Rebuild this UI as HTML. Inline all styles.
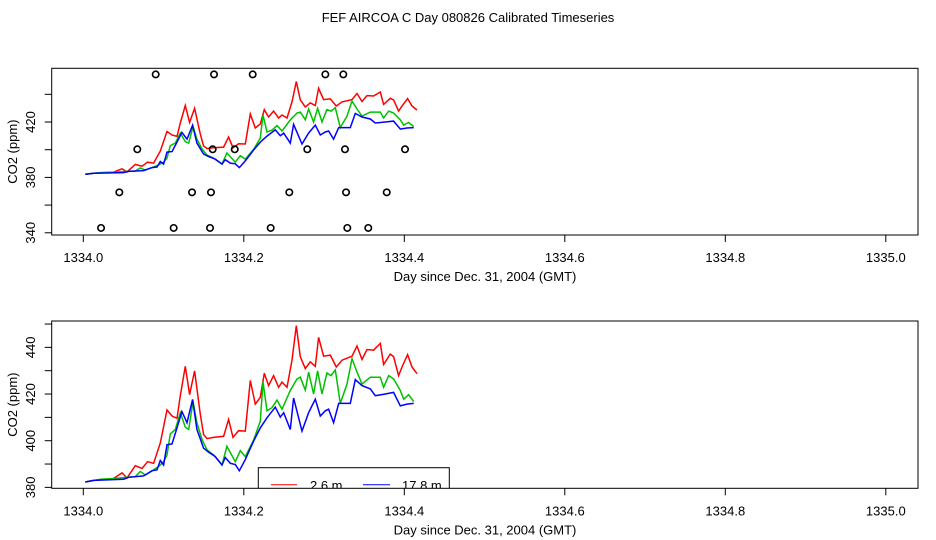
<!DOCTYPE html>
<html><head><meta charset="utf-8"><style>
body{margin:0;background:#fff}
svg{display:block;font-family:"Liberation Sans",Arial,sans-serif}
text{font-size:13px;fill:#000}
</style></head><body>
<svg id="c" width="936" height="540" viewBox="0 0 936 540">
<text x="468" y="22" text-anchor="middle">FEF AIRCOA C  Day 080826  Calibrated Timeseries</text>
</svg>
<script>
const xTicks=[1334.0,1334.2,1334.4,1334.6,1334.8,1335.0];
const xTickLabels=["1334.0","1334.2","1334.4","1334.6","1334.8","1335.0"];
const topYTicks=[340,360,380,400,420,440];
const topYLabels=[340,380,420];
const botYTicks=[380,390,400,410,420,430,440,450];
const botYLabels=[380,400,420,440];
const redX=[.0025,.0129,.0378,.0482,.0544,.0648,.0731,.0801,.0876,.0960,.1043,.1105,.1167,.1209,.1271,.1325,.1387,.1458,.1499,.1541,.1624,.1748,.1811,.1865,.1935,.2019,.2081,.2143,.2206,.2255,.2309,.2371,.2434,.2476,.2538,.2601,.2654,.2704,.2766,.2829,.2891,.2932,.2994,.3078,.3153,.3224,.3348,.3411,.3473,.3535,.3618,.3701,.3742,.3826,.3867,.3929,.3971,.4041,.4096,.4158];
const redY=[382.3,383,383.8,386.2,384,389.3,388.1,391,390.3,399,413.2,410.6,409.6,419.3,431.9,419.7,429.9,411.3,402.6,400.9,401.4,401.9,409.1,401.4,404.3,404.1,425.8,415.7,418.6,428.9,423.6,427.9,422.9,425.1,422.9,434.5,449.3,436,430.9,433.8,431.9,444.3,436.2,436.7,431.6,434.5,436.2,440.6,434.8,439.1,438.8,441.7,432.7,437.1,436,427.9,431.6,436.9,431.6,428.7];
const greenX=[.0025,.0212,.0399,.0544,.0648,.0710,.0773,.0856,.0939,.1001,.1043,.1084,.1147,.1209,.1271,.1313,.1367,.1416,.1479,.1541,.1624,.1728,.1790,.1894,.1956,.2019,.2123,.2206,.2239,.2289,.2351,.2414,.2476,.2580,.2663,.2704,.2766,.2808,.2870,.2920,.2974,.3036,.3086,.3140,.3203,.3286,.3348,.3411,.3473,.3576,.3701,.3742,.3805,.3867,.3950,.3992,.4054,.4117];
const greenY=[382.3,383.5,383.8,384.3,384.6,386.8,385.3,387.1,389,391,393.9,402.9,404.8,412,405.8,404.8,416.8,407.7,400.5,396.1,393.9,389.6,397.6,391,395.7,393.2,400.4,408.4,425.1,412.8,414.2,417.4,413.5,421.5,426.5,427.2,421.7,429.4,420,429.9,420,429,427.9,430.3,416,424.3,435.2,429.4,424.3,427.2,427.2,422.9,427.9,426.5,421.5,417.8,419.7,416.8];
const blueX=[.0025,.0129,.0502,.0565,.0752,.0856,.0918,.0960,.1001,.1043,.1105,.1167,.1229,.1292,.1362,.1416,.1499,.1561,.1645,.1728,.1769,.1832,.1894,.1944,.2019,.2123,.2206,.2289,.2393,.2455,.2497,.2580,.2621,.2725,.2808,.2891,.2953,.3015,.3057,.3119,.3182,.3327,.3390,.3473,.3576,.3639,.3763,.3867,.3950,.4033,.4117];
const blueY=[382.3,383,383.5,384.3,384.9,387.1,387.5,391.5,389.6,398.3,398.6,405.5,412.5,407.7,417.7,404.8,396.8,395.1,393.2,389.6,392.8,390.3,389.8,387.1,391.9,399.9,405.5,409.8,414.4,410.1,412,404.8,418.3,404.1,412,417.8,410.6,412.8,413.5,407.7,416,416,426.2,423.6,422.2,419.3,420,420.7,414.9,415.7,416];
const flagX=[.0902,.1629,.2111,.3016,.324,.0673,.1612,.1887,.2791,.3261,.4009,.0449,.1355,.1591,.2567,.3274,.3781,.0221,.1126,.1579,.2335,.329,.3551];
const flagY=[454.4,454.4,454.4,454.4,454.4,400.3,400.3,400.3,400.3,400.3,400.3,369.2,369.2,369.2,369.2,369.2,369.2,343.5,343.5,343.5,343.5,343.5,343.5];

const NS="http://www.w3.org/2000/svg";
const svg=document.getElementById('c');
function mk(tag,attrs,parent){const e=document.createElementNS(NS,tag);for(const k in attrs)e.setAttribute(k,attrs[k]);(parent||svg).appendChild(e);return e;}
const L=51.7,R=918;
function xs(d){return 83.3+(d-1334)/0.2*160.5;}

function panel(name,top,bot,ymin,ymax,yT,yL,withFlags,withLegend){
  const g=mk('g',{});
  
  
  const ys=v=>bot-(v-ymin)/(ymax-ymin)*(bot-top);
  const cid='clip-'+name;
  const cp=mk('clipPath',{id:cid},g);mk('rect',{x:L,y:top,width:R-L,height:bot-top},cp);
  const plot=mk('g',{'clip-path':'url(#'+cid+')'},g);
  const series=[[redX,redY,'#ff0000','red-series'],[greenX,greenY,'#00c000','green-series'],[blueX,blueY,'#0000ff','blue-series']];
  for(const [X,Y,col,nm] of series){
    const p=mk('polyline',{points:X.map((x,i)=>xs(1334+x).toFixed(1)+','+ys(Y[i]).toFixed(1)).join(' '),fill:'none',stroke:col,'stroke-width':1.5},plot);
    
    
  }
  if(withFlags){for(let i=0;i<flagX.length;i++){
    const c=mk('circle',{cx:xs(1334+flagX[i]),cy:ys(flagY[i]),r:3.2,fill:'none',stroke:'#000','stroke-width':1.6},plot);
    
    
  }}
  if(withLegend){
    const lg=mk('g',{},plot);
    
    
    mk('rect',{x:258.3,y:467.7,width:191,height:40,fill:'#fff',stroke:'#000','stroke-width':1},lg);
    mk('line',{x1:271,y1:484.7,x2:297,y2:484.7,stroke:'#ff0000','stroke-width':1},lg);
    const t1=mk('text',{x:310,y:490},lg);t1.textContent='2.6 m';
    
    
    mk('line',{x1:363,y1:484.7,x2:390,y2:484.7,stroke:'#0000ff','stroke-width':1},lg);
    const t2=mk('text',{x:402,y:490},lg);t2.textContent='17.8 m';
    
    
  }
  const box=mk('rect',{x:L,y:top,width:R-L,height:bot-top,fill:'none',stroke:'#000','stroke-width':1},g);
  
  
  for(let i=0;i<xTicks.length;i++){
    const x=xs(xTicks[i]);
    mk('line',{x1:x,y1:bot,x2:x,y2:bot+7,stroke:'#000'},g);
    const t=mk('text',{x:x,y:bot+27,'text-anchor':'middle'},g);t.textContent=xTickLabels[i];
    
    
  }
  for(const v of yT){const y=ys(v);mk('line',{x1:L,y1:y,x2:L-7,y2:y,stroke:'#000'},g);}
  for(const v of yL){const y=ys(v);
    const t=mk('text',{x:0,y:0,'text-anchor':'middle',transform:'translate(35,'+y+') rotate(-90)'},g);t.textContent=v;
    
    
  }
  const yt=mk('text',{x:0,y:0,'text-anchor':'middle',transform:'translate(17,'+((top+bot)/2)+') rotate(-90)'},g);yt.textContent='CO2 (ppm)';
  
  
  const xt=mk('text',{x:485,y:bot+46,'text-anchor':'middle'},g);xt.textContent='Day since Dec. 31, 2004 (GMT)';
  
  
}
panel('top-panel',68.3,235,338.4,458.8,topYTicks,topYLabels,true,false);
panel('bottom-panel',321,488.3,379.6,451.3,botYTicks,botYLabels,false,true);
</script>
</body></html>
